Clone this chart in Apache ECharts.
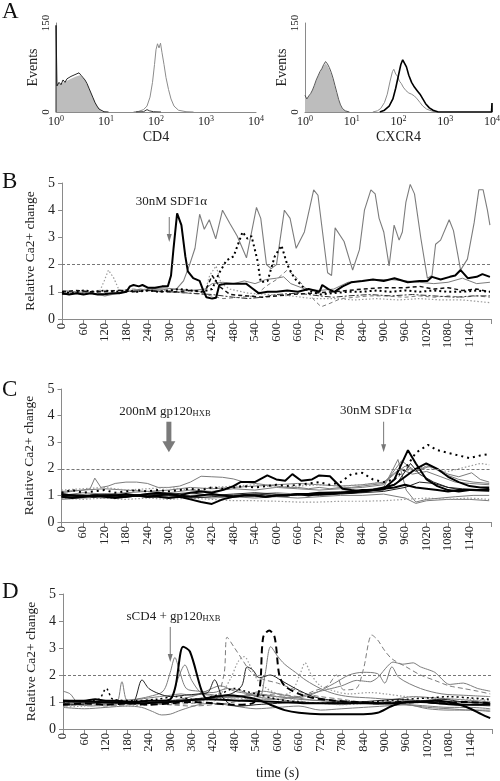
<!DOCTYPE html>
<html><head><meta charset="utf-8">
<script src="https://cdn.jsdelivr.net/npm/echarts@6/dist/echarts.min.js"></script>
<style>html,body{margin:0;padding:0;background:#fff}#c{width:500px;height:781px}</style>
</head><body><div id="c"></div>
<script>
// ---------- Panel A: flow cytometry histograms (x = log10 fluorescence, y = events) ----------
const decadeTicks = [0, 1, 2, 3, 4];
const A1_ctrlFill = [[0,48],[0.1,48],[0.2,52],[0.3,56],[0.4,60],[0.48,62],[0.56,56],[0.64,44],[0.72,28],[0.8,13],[0.88,4],[0.96,1],[1.0,0]];
const A1_ctrl = [[0,0],[0,146],[0.02,44],[0.06,50],[0.1,46],[0.14,54],[0.18,50],[0.22,56],[0.26,54],[0.3,60],[0.34,57],[0.38,63],[0.42,60],[0.46,66],[0.5,62],[0.54,58],[0.58,54],[0.62,48],[0.66,40],[0.7,32],[0.74,24],[0.78,16],[0.82,10],[0.86,5],[0.9,2],[0.96,0.5],[1.05,0]];
const A1_cd4 = [[1.55,0],[1.65,1],[1.75,4],[1.82,10],[1.88,25],[1.93,50],[1.97,80],[2.0,105],[2.03,115],[2.06,108],[2.09,116],[2.12,100],[2.16,80],[2.2,58],[2.25,38],[2.3,22],[2.36,10],[2.45,3],[2.6,0.5],[2.75,0]];
const A1_cd4b = [[1.6,0],[1.75,0.5],[1.82,4],[1.87,2],[1.95,0.5],[2.1,0]];
const A2_ctrlFill = [[0,26],[0.04,22],[0.08,26],[0.12,30],[0.16,36],[0.2,44],[0.24,52],[0.28,60],[0.32,66],[0.36,72],[0.4,78],[0.44,82],[0.48,78],[0.52,72],[0.56,64],[0.6,54],[0.64,42],[0.68,30],[0.72,19],[0.76,10],[0.8,5],[0.86,1.5],[0.95,0]];
const A2_ctrl = [[0,28],[0.04,22],[0.08,27],[0.12,31],[0.16,37],[0.2,45],[0.24,54],[0.28,61],[0.32,68],[0.36,73],[0.4,80],[0.44,85],[0.48,81],[0.52,75],[0.56,67],[0.6,57],[0.64,45],[0.68,33],[0.72,21],[0.76,12],[0.8,6],[0.86,2],[0.95,0]];
const A2_cxcr4a = [[1.45,0],[1.55,2],[1.62,6],[1.7,16],[1.76,30],[1.82,52],[1.87,68],[1.9,72],[1.94,64],[1.98,60],[2.02,52],[2.06,48],[2.1,42],[2.16,36],[2.22,32],[2.28,30],[2.34,27],[2.4,22],[2.46,16],[2.52,10],[2.6,5],[2.7,2],[2.8,0]];
const A2_cxcr4b = [[1.6,0],[1.7,3],[1.8,10],[1.88,22],[1.94,40],[2.0,62],[2.05,80],[2.09,88],[2.13,85],[2.17,76],[2.22,62],[2.28,50],[2.34,42],[2.4,36],[2.46,30],[2.52,22],[2.58,14],[2.66,7],[2.74,3],[2.85,0],[3.99,0],[4,15],[4,0]];

// ---------- Panel B: [time (s), relative Ca2+ change] ----------
const B_gray1 = [[0,0.95],[20,0.9],[40,0.95],[60,0.9],[80,0.95],[100,0.9],[120,0.85],[140,0.9],[160,0.95],[180,1.0],[200,1.05],[220,1.1],[240,1.05],[260,1.1],[280,1.1],[300,1.05],[320,1.1],[340,1.4],[357,2.0],[372,2.6],[385,3.85],[398,3.3],[412,3.65],[430,2.95],[449,4.0],[470,3.5],[490,3.05],[516,2.25],[544,4.1],[556,3.7],[572,2.0],[585,1.85],[600,2.0],[622,4.0],[638,3.7],[655,2.6],[678,3.2],[704,4.75],[716,4.55],[743,1.7],[754,1.6],[764,3.35],[789,2.85],[813,1.8],[832,2.55],[846,4.0],[864,4.75],[876,4.6],[887,3.7],[900,3.2],[915,1.95],[929,3.45],[943,2.9],[952,3.2],[962,4.3],[974,4.95],[986,4.6],[1004,2.95],[1022,1.5],[1035,1.6],[1045,2.75],[1059,2.9],[1083,3.65],[1095,3.25],[1115,1.8],[1134,2.2],[1153,3.55],[1166,4.75],[1178,4.75],[1190,4.0],[1197,3.45]];
const B_black1 = [[0,0.95],[20,0.9],[40,0.95],[60,0.9],[80,0.95],[100,0.9],[120,0.92],[140,0.95],[160,0.95],[180,1.0],[190,1.2],[200,1.25],[215,1.2],[225,1.25],[240,1.15],[260,1.15],[280,1.2],[296,1.2],[305,1.6],[312,2.6],[322,3.88],[334,3.45],[345,2.3],[352,1.75],[367,1.5],[385,1.4],[395,1.05],[404,0.8],[420,0.75],[431,0.78],[440,1.25],[460,1.3],[490,1.3],[515,1.3],[530,1.15],[550,0.95],[575,1.0],[600,1.0],[630,1.05],[660,1.0],[690,1.1],[720,1.0],[728,1.25],[745,1.1],[762,1.0],[785,1.2],[809,1.35],[840,1.4],[870,1.45],[900,1.4],[930,1.5],[967,1.35],[1000,1.4],[1022,1.4],[1035,1.55],[1059,1.45],[1085,1.55],[1100,1.6],[1115,1.8],[1135,1.5],[1160,1.55],[1176,1.65],[1197,1.55]];
const B_blackDot = [[0,1.0],[30,0.95],[60,1.05],[90,1.0],[120,1.05],[150,1.0],[180,1.05],[210,1.0],[240,1.05],[270,1.0],[300,1.05],[330,1.1],[360,1.05],[390,1.0],[420,1.1],[440,1.7],[460,2.15],[480,2.3],[505,3.2],[519,2.95],[530,3.05],[546,2.2],[556,1.35],[575,1.4],[595,2.3],[614,2.7],[630,2.0],[650,1.5],[680,1.1],[720,0.9],[760,0.95],[800,1.0],[840,1.0],[880,1.05],[920,1.0],[960,1.05],[1000,1.0],[1040,1.05],[1080,1.0],[1120,1.0],[1160,1.05],[1197,1.0]];
const B_blackDash = [[0,1.0],[40,1.05],[80,1.0],[120,1.0],[160,1.05],[200,1.0],[240,1.05],[280,1.0],[320,1.0],[360,1.05],[400,1.0],[420,1.6],[440,1.2],[470,0.9],[520,0.85],[560,0.8],[600,0.85],[640,0.9],[700,0.95],[760,1.0],[800,1.05],[840,1.1],[900,1.15],[960,1.15],[1000,1.2],[1040,1.1],[1080,1.15],[1120,1.05],[1160,1.1],[1197,1.0]];
const B_grayDot = [[0,1.0],[40,0.95],[80,1.0],[105,1.0],[118,1.4],[130,1.8],[145,1.5],[160,1.05],[200,1.05],[240,1.1],[280,1.05],[320,1.0],[360,1.05],[400,1.0],[413,1.6],[431,1.95],[445,1.3],[470,1.1],[520,0.95],[580,0.9],[640,0.85],[700,0.75],[760,0.75],[820,0.7],[880,0.75],[940,0.7],[1000,0.75],[1060,0.7],[1120,0.7],[1160,0.65],[1197,0.6]];
const B_grayDash = [[0,1.0],[50,0.95],[100,1.05],[150,1.05],[200,1.1],[250,1.05],[300,1.0],[350,0.95],[400,0.9],[450,0.75],[500,0.8],[540,0.85],[570,1.2],[600,1.45],[630,1.8],[650,1.6],[680,1.15],[705,0.7],[725,0.45],[745,0.55],[780,0.75],[820,0.8],[860,0.85],[900,0.85],[960,0.8],[1000,0.85],[1040,0.8],[1080,0.85],[1120,0.8],[1160,0.85],[1197,0.8]];
const B_gray2 = [[0,1.05],[40,1.0],[80,0.95],[120,0.9],[160,0.95],[200,1.05],[240,1.1],[280,1.15],[320,1.1],[360,1.05],[400,1.1],[420,1.3],[450,1.35],[480,1.3],[510,1.4],[540,1.3],[570,1.45],[600,1.5],[620,1.55],[640,1.3],[680,1.1],[720,1.05],[760,1.1],[800,1.35],[840,1.4],[880,1.45],[920,1.45],[960,1.4],[1000,1.35],[1040,1.3],[1080,1.35],[1120,1.5],[1160,1.3],[1197,1.35]];
const B_blackDashDot = [[0,0.9],[60,0.95],[120,0.9],[180,1.0],[240,1.05],[300,1.0],[360,0.95],[420,0.9],[480,0.8],[520,0.75],[560,0.8],[600,0.9],[660,0.95],[720,0.85],[760,0.8],[800,0.85],[860,0.9],[920,0.85],[980,0.9],[1040,0.85],[1100,0.8],[1150,0.85],[1197,0.85]];

// ---------- Panel C ----------
const C_k1 = [[0,1.0],[30,1.0],[60,0.95],[90,1.0],[120,1.0],[150,1.0],[180,1.05],[210,1.0],[240,1.05],[270,1.1],[300,1.05],[330,1.0],[360,1.1],[390,1.15],[420,1.1],[450,1.2],[480,1.35],[500,1.5],[540,1.5],[575,1.75],[600,1.6],[625,1.55],[645,1.8],[670,1.55],[700,1.6],[720,1.75],[750,1.72],[785,1.25],[810,1.2],[840,1.15],[870,1.2],[900,1.25],[930,1.3],[960,1.4],[990,1.3],[1020,1.25],[1050,1.2],[1080,1.15],[1110,1.2],[1140,1.2],[1170,1.2],[1195,1.2]];
const C_k2 = [[0,0.95],[30,0.9],[60,0.95],[90,1.0],[120,0.95],[150,0.9],[180,0.95],[210,1.0],[240,0.95],[270,1.0],[300,1.05],[330,1.0],[360,0.95],[390,1.0],[420,1.05],[450,1.0],[480,0.95],[510,1.0],[540,1.0],[570,0.95],[600,1.0],[630,1.0],[660,1.05],[690,1.0],[720,1.05],[750,1.05],[780,1.1],[810,1.1],[840,1.15],[870,1.2],[900,1.25],[930,1.6],[968,2.7],[990,2.2],[1020,1.6],[1050,1.35],[1080,1.2],[1110,1.15],[1140,1.2],[1170,1.2],[1195,1.25]];
const C_k3 = [[0,1.05],[30,1.0],[60,1.0],[90,0.95],[120,1.0],[150,1.0],[180,0.95],[210,1.0],[240,0.95],[270,0.95],[300,0.9],[330,0.95],[360,0.85],[390,0.75],[420,0.68],[450,0.85],[480,0.95],[510,1.0],[540,1.0],[570,0.95],[600,1.0],[630,1.0],[660,1.05],[690,1.05],[720,1.1],[750,1.1],[780,1.1],[810,1.15],[840,1.2],[870,1.2],[900,1.3],[930,1.4],[960,1.7],[990,2.0],[1019,2.2],[1050,2.0],[1080,1.7],[1110,1.5],[1140,1.35],[1170,1.3],[1195,1.3]];
const C_kDot = [[0,1.1],[30,1.2],[60,1.1],[90,1.15],[120,1.2],[150,1.1],[180,1.15],[210,1.2],[240,1.15],[270,1.2],[300,1.15],[330,1.2],[360,1.25],[390,1.2],[420,1.3],[450,1.25],[480,1.3],[510,1.35],[540,1.3],[570,1.35],[600,1.4],[630,1.35],[660,1.4],[690,1.45],[720,1.5],[750,1.4],[780,1.5],[810,1.8],[840,1.85],[870,1.6],[900,1.5],[930,1.6],[960,2.0],[990,2.6],[1024,2.9],[1050,2.7],[1080,2.6],[1110,2.5],[1140,2.4],[1170,2.5],[1195,2.55]];
const C_g1 = [[0,1.1],[30,1.15],[60,1.2],[80,1.25],[93,1.65],[110,1.3],[130,1.35],[150,1.45],[180,1.5],[210,1.5],[240,1.45],[270,1.3],[300,1.3],[330,1.35],[360,1.5],[390,1.72],[420,1.7],[450,1.68],[480,1.62],[510,1.5],[540,1.45],[570,1.4],[600,1.35],[630,1.3],[660,1.3],[690,1.25],[720,1.3],[750,1.25],[780,1.3],[810,1.3],[840,1.35],[870,1.4],[900,1.45],[930,1.8],[960,2.1],[990,1.9],[1020,2.1],[1050,2.0],[1080,1.8],[1110,1.7],[1146,1.85],[1170,1.6],[1195,1.5]];
const C_gDot = [[0,1.2],[60,1.25],[120,1.3],[180,1.2],[240,1.25],[300,1.3],[360,1.2],[420,1.3],[480,1.35],[540,1.4],[600,1.3],[660,1.35],[720,1.4],[780,1.35],[840,1.4],[900,1.5],[930,1.6],[960,1.9],[990,2.0],[1020,2.1],[1050,1.95],[1080,1.9],[1110,2.0],[1140,2.1],[1170,2.2],[1195,2.15]];
const C_g2 = [[0,0.9],[60,0.95],[120,0.9],[180,0.95],[240,1.0],[300,0.95],[360,1.0],[420,1.05],[480,1.0],[540,1.05],[600,1.1],[660,1.05],[720,1.1],[780,1.15],[840,1.2],[900,1.3],[940,2.35],[963,1.2],[990,0.75],[1020,0.85],[1060,0.9],[1100,0.95],[1150,1.0],[1195,1.0]];
const C_g3 = [[0,1.15],[60,1.2],[120,1.25],[180,1.2],[240,1.15],[300,1.2],[360,1.3],[420,1.25],[480,1.3],[540,1.35],[600,1.4],[660,1.45],[720,1.4],[780,1.35],[840,1.4],[900,1.5],[945,2.0],[980,1.8],[1020,1.9],[1060,1.7],[1100,1.5],[1140,1.45],[1195,1.4]];
const C_gDotLow = [[0,0.9],[60,0.85],[120,0.9],[180,0.85],[240,0.9],[300,0.85],[360,0.9],[420,0.85],[480,0.8],[540,0.8],[600,0.78],[660,0.75],[720,0.75],[780,0.78],[840,0.78],[900,0.8],[960,0.85],[1020,0.9],[1080,0.85],[1140,0.9],[1195,0.85]];
const C_g4 = [[0,0.85],[60,0.9],[120,0.95],[180,1.0],[240,0.95],[300,1.0],[360,0.95],[420,0.9],[480,0.95],[540,0.9],[600,0.95],[660,0.9],[720,0.95],[780,1.0],[840,1.0],[900,1.05],[960,0.9],[990,0.7],[1020,0.8],[1080,0.85],[1140,0.85],[1195,0.8]];
const C_k4 = [[0,1.05],[60,1.0],[120,1.05],[180,1.0],[240,1.0],[300,1.05],[360,1.1],[420,1.0],[480,1.05],[540,1.1],[600,1.05],[660,1.0],[720,1.05],[780,1.1],[840,1.15],[900,1.2],[940,1.5],[975,2.2],[1000,1.8],[1040,1.5],[1080,1.3],[1120,1.2],[1195,1.15]];
const C_g5 = [[0,1.0],[60,1.1],[120,1.05],[180,1.1],[240,1.15],[300,1.1],[360,1.2],[420,1.15],[480,1.25],[540,1.2],[600,1.3],[660,1.25],[720,1.2],[780,1.25],[840,1.3],[900,1.4],[950,2.3],[990,1.9],[1030,2.1],[1070,1.8],[1110,1.6],[1150,1.5],[1195,1.45]];
const C_k5 = [[0,0.95],[60,1.0],[120,0.95],[180,1.0],[240,1.05],[300,1.0],[360,0.9],[420,0.95],[480,1.0],[540,1.05],[600,1.0],[660,1.05],[720,1.0],[780,1.05],[840,1.1],[900,1.15],[960,1.3],[1000,1.5],[1040,1.45],[1080,1.3],[1120,1.25],[1195,1.2]];

// ---------- Panel D ----------
const D_k1 = [[0,1.05],[30,1.05],[60,1.05],[90,1.1],[120,1.05],[150,1.05],[180,1.0],[210,1.0],[240,1.05],[270,1.05],[300,1.1],[315,1.6],[336,3.05],[355,2.87],[387,1.45],[401,1.14],[430,1.2],[460,1.25],[500,1.2],[540,1.1],[580,0.9],[620,0.7],[660,0.6],[720,0.55],[780,0.55],[840,0.55],[880,0.6],[920,0.85],[960,1.0],[1000,1.0],[1040,1.05],[1080,1.0],[1110,0.9],[1140,0.75],[1170,0.55],[1195,0.4]];
const D_g1 = [[0,0.9],[60,0.95],[120,0.9],[180,0.95],[240,1.0],[300,1.1],[320,1.8],[341,2.37],[360,1.8],[390,1.3],[420,1.25],[480,1.2],[540,1.3],[600,1.2],[660,1.1],[720,1.05],[780,1.0],[840,0.95],[900,1.0],[960,1.05],[1020,1.0],[1080,0.95],[1140,0.9],[1195,0.85]];
const D_g2 = [[0,1.4],[20,1.3],[40,1.0],[80,0.95],[120,1.0],[160,1.05],[200,1.1],[240,1.2],[280,1.4],[300,2.1],[313,2.65],[325,2.2],[345,1.5],[380,1.4],[420,1.35],[460,1.5],[500,1.4],[540,1.2],[600,1.1],[660,1.0],[720,0.95],[780,0.9],[840,1.0],[900,0.95],[960,0.9],[1020,0.8],[1080,0.75],[1140,0.7],[1195,0.7]];
const D_k2 = [[0,0.95],[40,0.9],[80,0.95],[120,1.0],[160,1.0],[195,1.0],[221,1.82],[240,1.5],[270,1.3],[300,1.2],[340,1.25],[380,1.3],[405,1.35],[424,1.82],[445,1.2],[470,0.9],[500,0.85],[540,0.9],[600,0.95],[660,1.0],[720,0.95],[780,1.0],[840,1.0],[900,0.95],[960,1.0],[1020,1.05],[1080,1.0],[1140,1.0],[1195,0.95]];
const D_g3 = [[0,0.85],[40,0.9],[80,0.85],[120,0.9],[150,0.95],[165,1.75],[180,1.05],[210,1.1],[240,1.15],[270,1.2],[300,1.25],[330,1.3],[360,1.25],[400,1.3],[440,1.2],[480,1.15],[520,1.3],[560,1.4],[600,1.3],[640,1.2],[680,1.1],[720,1.05],[780,1.0],[840,0.95],[900,0.9],[960,0.9],[1020,0.85],[1080,0.8],[1140,0.8],[1195,0.75]];
const D_kDot = [[0,1.0],[60,1.05],[100,1.1],[121,1.5],[140,1.1],[200,1.05],[260,1.1],[320,1.2],[360,1.1],[400,1.15],[440,1.3],[480,1.5],[510,1.4],[540,1.3],[600,1.1],[660,1.0],[720,0.95],[780,1.0],[840,1.0],[900,1.05],[960,1.1],[1020,1.15],[1080,1.2],[1140,1.15],[1195,1.1]];
const D_gDash1 = [[0,0.85],[60,0.9],[120,0.85],[180,0.9],[240,0.95],[300,0.9],[360,0.95],[420,1.0],[450,2.0],[459,3.4],[480,3.0],[500,2.6],[520,2.2],[540,1.95],[570,1.8],[600,1.7],[640,1.5],[680,1.3],[720,1.2],[780,1.1],[840,1.0],[900,1.0],[960,0.95],[1020,1.0],[1080,0.95],[1140,0.9],[1195,0.9]];
const D_gDot1 = [[0,0.8],[60,0.85],[120,0.9],[180,0.85],[240,0.9],[300,0.95],[360,1.0],[400,1.1],[440,1.3],[470,1.9],[490,2.5],[507,2.68],[525,2.3],[545,1.8],[570,1.5],[600,1.3],[640,1.1],[680,1.0],[720,0.95],[780,0.9],[840,0.95],[900,1.0],[960,1.0],[1020,1.05],[1080,1.0],[1140,1.05],[1195,1.0]];
const D_kDash = [[0,0.9],[60,0.95],[120,0.9],[180,0.95],[240,0.9],[300,0.95],[360,1.0],[420,0.95],[480,0.9],[530,0.95],[550,1.5],[560,3.4],[577,3.65],[592,3.4],[605,2.0],[620,1.6],[660,1.3],[700,1.15],[760,1.05],[820,1.0],[880,0.95],[940,1.0],[1000,1.0],[1060,0.95],[1120,1.0],[1195,0.95]];
const D_g4 = [[0,1.0],[60,1.05],[120,1.0],[180,1.05],[240,1.0],[300,1.05],[360,1.2],[400,1.4],[440,1.6],[480,1.4],[520,1.3],[550,1.2],[565,2.0],[581,3.05],[600,2.7],[620,2.4],[650,2.1],[680,1.8],[720,1.5],[760,1.3],[800,1.2],[860,1.15],[920,1.1],[980,1.2],[1040,1.15],[1100,1.1],[1150,1.05],[1195,1.0]];
const D_k3 = [[0,1.0],[60,1.0],[120,1.05],[180,1.0],[240,1.05],[300,1.05],[360,1.1],[420,1.2],[470,1.3],[500,1.6],[515,2.3],[530,2.2],[550,1.9],[580,2.0],[610,1.8],[650,1.5],[700,1.2],[760,1.05],[820,1.0],[880,1.05],[940,1.1],[1000,1.05],[1060,1.1],[1120,1.0],[1195,0.95]];
const D_gDot2 = [[0,0.9],[60,0.95],[120,1.0],[180,0.95],[240,1.0],[300,1.05],[360,1.0],[420,1.1],[480,1.15],[540,1.1],[600,1.2],[640,1.4],[665,2.1],[677,2.45],[695,2.0],[720,1.6],[760,1.4],[800,1.3],[860,1.35],[900,1.3],[960,1.2],[1020,1.15],[1080,1.1],[1140,1.1],[1195,1.05]];
const D_gDash2 = [[0,0.95],[60,0.9],[120,0.95],[180,1.0],[240,0.95],[300,0.9],[360,0.85],[420,0.9],[480,1.0],[540,1.2],[600,1.3],[660,1.2],[700,1.4],[740,1.6],[765,2.0],[785,1.45],[820,1.5],[840,2.2],[864,3.48],[880,3.3],[900,2.9],[920,2.6],[960,2.3],[1000,2.0],[1040,1.8],[1080,1.6],[1120,1.5],[1160,1.4],[1195,1.3]];
const D_g5 = [[0,0.95],[60,1.0],[120,0.95],[180,1.0],[240,1.05],[300,1.0],[360,1.05],[420,1.1],[480,1.05],[540,1.1],[600,1.1],[660,1.2],[720,1.4],[780,1.6],[820,1.8],[860,1.75],[880,1.9],[923,2.48],[950,2.4],[980,2.45],[1000,2.3],[1040,2.1],[1080,1.65],[1120,1.7],[1160,1.5],[1195,1.4]];
const D_g6 = [[0,1.0],[60,0.95],[120,1.0],[180,1.05],[240,1.0],[300,1.05],[360,1.1],[420,1.15],[480,1.2],[540,1.25],[600,1.2],[650,1.15],[700,1.3],[760,1.7],[800,2.0],[840,2.1],[880,2.05],[900,1.7],[920,2.3],[940,1.9],[1000,1.5],[1060,1.3],[1120,1.25],[1195,1.2]];
const D_g7 = [[0,0.8],[60,0.75],[120,0.8],[180,0.85],[220,0.8],[250,0.65],[276,0.52],[300,0.55],[330,0.7],[380,0.9],[420,0.95],[480,0.85],[540,0.75],[600,0.8],[660,0.85],[720,0.7],[780,0.75],[840,0.8],[900,0.85],[960,0.9],[1020,0.75],[1080,0.7],[1140,0.7],[1195,0.65]];
const D_k4 = [[0,1.05],[100,1.0],[200,0.95],[300,1.0],[400,1.1],[500,1.05],[600,1.0],[700,0.95],[800,0.95],[900,0.95],[1000,1.0],[1100,0.9],[1195,0.9]];

const timeTicksMax = 1200, timeStep = 60;
const caTicks = [0, 1, 2, 3, 4, 5];
const threshold = 2;

// ---------- styling ----------
const SERIF = 'Liberation Serif';
const GRAY = '#7c7c7c', LGRAY = '#9a9a9a', BLACK = '#000';
const AXC = '#8a8a8a';

function S(data, g, color, width, type, extra) {
  return Object.assign({
    type: 'line', xAxisIndex: g, yAxisIndex: g, data: data, symbol: 'none',
    lineStyle: { color: color, width: width, type: type || 'solid' }, silent: true
  }, extra || {});
}
const refLine = { silent: true, symbol: 'none', label: { show: false },
  lineStyle: { type: [3, 2], color: '#777', width: 1 }, data: [{ yAxis: threshold }] };

const sup = { fontSize: 8, fontFamily: SERIF, color: '#222', verticalAlign: 'top', lineHeight: 8 };
function histX(gi, name) {
  return { gridIndex: gi, type: 'value', min: 0, max: 4, interval: 1, name: name,
    nameLocation: 'middle', nameGap: 15, nameTextStyle: { fontFamily: SERIF, fontSize: 14, color: '#222' },
    axisLine: { lineStyle: { color: AXC } }, axisTick: { show: false }, splitLine: { show: false },
    axisLabel: { margin: 3, fontFamily: SERIF, fontSize: 12, color: '#222', lineHeight: 14,
      formatter: v => '10{s|' + v + '}', rich: { s: sup } } };
}
function histY(gi) {
  return { gridIndex: gi, type: 'value', min: 0, max: 150, interval: 150, name: 'Events',
    nameLocation: 'middle', nameGap: 14, nameRotate: 90, nameTextStyle: { fontFamily: SERIF, fontSize: 14, color: '#222' },
    axisLine: { show: true, lineStyle: { color: AXC } }, axisTick: { show: false }, splitLine: { show: false },
    axisLabel: { rotate: 90, margin: 4, fontFamily: SERIF, fontSize: 11, color: '#222' } };
}
function timeX(gi, name) {
  return { gridIndex: gi, type: 'value', min: 0, max: timeTicksMax, interval: timeStep,
    name: name || '', nameLocation: 'middle', nameGap: 37, nameTextStyle: { fontFamily: SERIF, fontSize: 14, color: '#222' },
    axisLine: { lineStyle: { color: AXC } }, axisTick: { show: true, length: 5, lineStyle: { color: AXC } },
    splitLine: { show: false },
    axisLabel: { rotate: 90, margin: 4, fontFamily: SERIF, fontSize: 12.5, color: '#222',
      formatter: v => (v === timeTicksMax ? '' : String(v)) } };
}
function caY(gi) {
  return { gridIndex: gi, type: 'value', min: caTicks[0], max: caTicks[caTicks.length - 1], interval: 1,
    name: 'Relative Ca2+ change', nameLocation: 'middle', nameGap: 24, nameRotate: 90,
    nameTextStyle: { fontFamily: SERIF, fontSize: 13.5, color: '#222' },
    axisLine: { show: true, lineStyle: { color: AXC } }, axisTick: { show: true, length: 4, lineStyle: { color: AXC } },
    splitLine: { show: false },
    axisLabel: { margin: 7, fontFamily: SERIF, fontSize: 14, color: '#222' } };
}

const series = [
  // A left
  S(A1_ctrlFill, 0, 'rgba(0,0,0,0)', 0, 'solid', { areaStyle: { color: '#bdbdbd', opacity: 1 } }),
  S(A1_ctrl, 0, '#111', 0.9),
  S(A1_cd4, 0, '#8c8c8c', 1),
  S(A1_cd4b, 0, '#222', 0.9),
  // A right
  S(A2_ctrlFill, 1, 'rgba(0,0,0,0)', 0, 'solid', { areaStyle: { color: '#bdbdbd', opacity: 1 } }),
  S(A2_ctrl, 1, '#444', 0.9),
  S(A2_cxcr4a, 1, '#8c8c8c', 1),
  S(A2_cxcr4b, 1, '#000', 1.6),
  // B
  S(B_gray1, 2, GRAY, 1.1, 'solid', { markLine: refLine }),
  S(B_gray2, 2, GRAY, 1),
  S(B_grayDash, 2, GRAY, 1, [4, 3]),
  S(B_grayDot, 2, LGRAY, 1.2, [1.5, 2]),
  S(B_blackDashDot, 2, '#333', 1, [6, 2, 2, 2]),
  S(B_blackDash, 2, '#111', 1.5, [4, 3]),
  S(B_blackDot, 2, BLACK, 2, [2, 3]),
  S(B_black1, 2, BLACK, 2),
  // C
  S(C_g4, 3, GRAY, 1, 'solid', { markLine: refLine }),
  S(C_gDotLow, 3, LGRAY, 1.2, [1.5, 2]),
  S(C_g3, 3, GRAY, 1),
  S(C_g5, 3, GRAY, 1),
  S(C_g2, 3, GRAY, 1),
  S(C_g1, 3, GRAY, 1),
  S(C_gDot, 3, LGRAY, 1.2, [1.5, 2]),
  S(C_k5, 3, '#222', 1),
  S(C_k4, 3, '#222', 1),
  S(C_kDot, 3, BLACK, 2, [2, 4]),
  S(C_k1, 3, BLACK, 2),
  S(C_k2, 3, BLACK, 2),
  S(C_k3, 3, BLACK, 2),
  // D
  S(D_g7, 4, GRAY, 1, 'solid', { markLine: refLine, smooth: 0.3 }),
  S(D_g1, 4, GRAY, 1, 'solid', { smooth: 0.3 }),
  S(D_g2, 4, GRAY, 1, 'solid', { smooth: 0.3 }),
  S(D_g3, 4, GRAY, 1, 'solid', { smooth: 0.3 }),
  S(D_g4, 4, GRAY, 1, 'solid', { smooth: 0.3 }),
  S(D_g5, 4, GRAY, 1, 'solid', { smooth: 0.2 }),
  S(D_g6, 4, GRAY, 1, 'solid', { smooth: 0.3 }),
  S(D_gDash1, 4, GRAY, 1, [5, 3], { smooth: 0.3 }),
  S(D_gDash2, 4, GRAY, 1, [5, 3], { smooth: 0.3 }),
  S(D_gDot1, 4, LGRAY, 1.2, [1.5, 2], { smooth: 0.3 }),
  S(D_gDot2, 4, LGRAY, 1.2, [1.5, 2], { smooth: 0.3 }),
  S(D_kDot, 4, BLACK, 1.5, [2, 3], { smooth: 0.3 }),
  S(D_k2, 4, '#222', 1, 'solid', { smooth: 0.3 }),
  S(D_k3, 4, '#222', 1, 'solid', { smooth: 0.3 }),
  S(D_k4, 4, BLACK, 2, 'solid', { smooth: 0.3 }),
  S(D_kDash, 4, BLACK, 2, [7, 4], { smooth: 0.3 }),
  S(D_k1, 4, BLACK, 2, 'solid', { smooth: 0.3 })
];

const chart = echarts.init(document.getElementById('c'), null, { renderer: 'canvas' });
chart.setOption({
  animation: false,
  backgroundColor: '#fff',
  grid: [
    { left: 56, top: 23, width: 200, height: 89, containLabel: false, outerBoundsMode: 'none' },
    { left: 305, top: 23, width: 187, height: 89, containLabel: false, outerBoundsMode: 'none' },
    { left: 62, top: 183, width: 429, height: 136, containLabel: false, outerBoundsMode: 'none' },
    { left: 61.5, top: 389, width: 429.5, height: 133, containLabel: false, outerBoundsMode: 'none' },
    { left: 63, top: 594, width: 429, height: 135, containLabel: false, outerBoundsMode: 'none' }
  ],
  xAxis: [histX(0, 'CD4'), histX(1, 'CXCR4'), timeX(2), timeX(3), timeX(4, 'time (s)')],
  yAxis: [histY(0), histY(1), caY(2), caY(3), caY(4)],
  series: series
});

// ---------- annotations positioned through the axes ----------
function px(g, t, v) { return chart.convertToPixel({ gridIndex: g }, [t, v]); }
function arrow(g, t, v1, v2, w, hw, hh, color) {
  const a = px(g, t, v1), b = px(g, t, v2);
  return [
    { type: 'line', silent: true, shape: { x1: a[0], y1: a[1], x2: b[0], y2: b[1] - hh + 1 }, style: { stroke: color, lineWidth: w } },
    { type: 'polygon', silent: true, shape: { points: [[b[0] - hw / 2, b[1] - hh], [b[0] + hw / 2, b[1] - hh], [b[0], b[1]]] }, style: { fill: color } }
  ];
}
function label(g, t, v, text) {
  const p = px(g, t, v);
  return { type: 'text', silent: true, x: p[0], y: p[1],
    style: { text: text, fontFamily: SERIF, fontSize: 13, fill: '#222', align: 'center', verticalAlign: 'middle',
      rich: { s: { fontFamily: SERIF, fontSize: 8.5, fill: '#222', verticalAlign: 'bottom', padding: [4, 0, 0, 0] } } } };
}
function letter(x, y, t) {
  return { type: 'text', silent: true, x: x, y: y, style: { text: t, fontFamily: SERIF, fontSize: 23, fill: '#111' } };
}
const g = [].concat(
  [letter(2, 0, 'A'), letter(2, 170, 'B'), letter(2, 378, 'C'), letter(2, 580, 'D')],
  [label(2, 306, 4.3, '30nM SDF1α')], arrow(2, 300, 3.75, 2.83, 1, 5, 8, '#777'),
  [label(3, 289, 4.15, '200nM gp120{s|HXB}')], arrow(3, 300, 3.77, 2.62, 5, 13, 11, '#7a7a7a'),
  [label(3, 878, 4.2, '30nM SDF1α')], arrow(3, 900, 3.77, 2.62, 1, 5, 8, '#777'),
  [label(4, 309, 4.15, 'sCD4 + gp120{s|HXB}')], arrow(4, 300, 3.78, 2.48, 1, 5, 8, '#777')
);
chart.setOption({ graphic: g });
</script></body></html>
